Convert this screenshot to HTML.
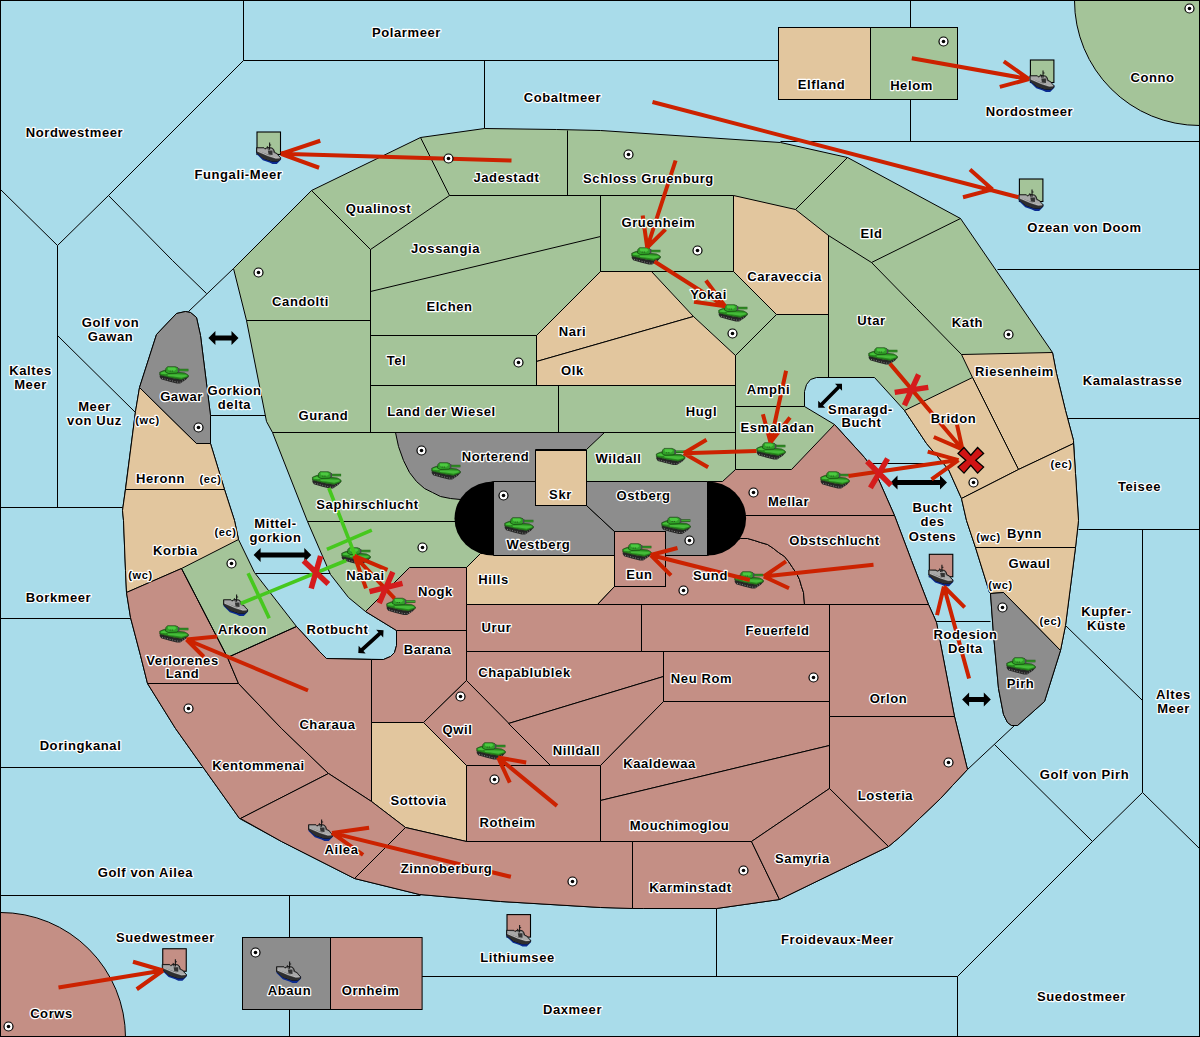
<!DOCTYPE html>
<html><head><meta charset="utf-8"><style>
html,body{margin:0;padding:0;background:#fff;}
svg{display:block;}
.l,.ls{font-family:"Liberation Sans",sans-serif;font-weight:bold;font-size:13px;letter-spacing:0.6px;text-anchor:middle;fill:#000;
stroke:#fff;stroke-width:2.4px;paint-order:stroke;stroke-linejoin:round;}
.ls{font-size:11px;}
</style></head><body>
<svg width="1200" height="1037" viewBox="0 0 1200 1037">
<defs><g id="tank">
<polygon points="0.3,8.5 9.3,10.8 15,11.9 22,13 27.8,10.8 28.8,10.5 26.3,13.2 20.7,16.9 17.3,16.9 9.3,14.9 1.7,12.7 0.2,10.5" fill="#262626"/>
<polyline points="2.5,11.8 9.5,13.6 17,15.5 21,15.7 25.5,13" fill="none" stroke="#8a8a8a" stroke-width="0.9" stroke-dasharray="1,1.6"/>
<polygon points="0.2,5.8 3,4.5 6,3.5 18,5.8 25,6.4 27.8,7.9 29,9 28.8,10.5 27.8,10.8 22,13 15,11.9 9.3,10.8 0.3,8.5" fill="#278a1e" stroke="#123a0c" stroke-width="0.6"/>
<polygon points="8,7.9 17,7.7 27,8.3 27.5,9.8 22,11.2 14,10.1 8.5,9.4" fill="#44bb38"/>
<polygon points="1,6.2 5,5 9,6.8 6,7.8 1.5,7.3" fill="#46c23a"/>
<polygon points="6.5,1.8 8,0.2 16,0.2 18.5,1.3 19.2,2 19.2,5.5 17,6.6 9,7 6,5.6" fill="#30a028" stroke="#123a0c" stroke-width="0.6"/>
<polygon points="8.5,1 15,1 17,2.5 15,4.2 10,4.2 8.5,3" fill="#4cc840"/>
<rect x="10.2" y="4.1" width="0.9" height="0.9" fill="#1a3a10"/><rect x="12.3" y="4.1" width="0.9" height="0.9" fill="#1a3a10"/>
<rect x="19.2" y="2.3" width="9.7" height="2.5" fill="#1f5e14"/>
<rect x="19.6" y="3.1" width="9" height="0.9" fill="#3fb334"/>
<rect x="18.3" y="1.5" width="1.4" height="4.4" fill="#4a4a50"/>
</g><g id="ship">
<polygon points="0,9.6 25.3,15.5 25.3,17.8 21,22.2 16.6,22.2 13.4,20.7 6.6,18.3 0,12" fill="#0a2a90"/>
<polygon points="0,5.4 7.7,5.4 8.8,6.5 11.2,5.1 16.1,5.7 17.7,7 18.8,10.3 21.5,11.6 22.3,12.9 25,15.7 25,17.3 22,19.5 16,19.5 7,16.5 0,10.5" fill="#5e5e5e" stroke="#111" stroke-width="0.9"/>
<polygon points="1,6.2 7.5,6.3 9,7.5 11.5,6 15.5,6.6 17,8 17.5,10.5 21,12.3 24,15.6 20,16 12,12.5 1,8.5" fill="#a8a8a8"/>
<polygon points="0.5,9.5 12,14.5 20,17 24.5,16.5 24.5,17.5 21.5,19.2 16,19.2 7,16.2 0.5,11" fill="#2e2e2e"/>
<polyline points="1,8.8 12,13.5 20,16 24,15.8" fill="none" stroke="#c8c8c8" stroke-width="0.9"/>
<polygon points="11.8,8.4 16.6,8.4 16.6,13 12.5,12.5" fill="#333"/>
<line x1="13.6" y1="0" x2="13.6" y2="7.6" stroke="#111" stroke-width="1.1"/>
<line x1="13.6" y1="2.6" x2="15.2" y2="2.6" stroke="#111" stroke-width="0.9"/>
<line x1="11.2" y1="3.8" x2="12.3" y2="7.5" stroke="#111" stroke-width="0.9"/>
</g></defs><g transform="translate(0.5,0.5)">
<rect x="0" y="0" width="1200" height="1037" fill="#a9dcea"/>
<circle cx="1199" cy="0" r="125" fill="#a4c499" stroke="#000" stroke-width="1"/>
<circle cx="0" cy="1037" r="125" fill="#c48f85" stroke="#000" stroke-width="1"/>
<polyline points="243,0 243,60" fill="none" stroke="#000" stroke-width="1"/>
<polyline points="243,60 778,60" fill="none" stroke="#000" stroke-width="1"/>
<polyline points="243,60 108,195" fill="none" stroke="#000" stroke-width="1"/>
<polyline points="108,195 57,245" fill="none" stroke="#000" stroke-width="1"/>
<polyline points="0,189 57,245" fill="none" stroke="#000" stroke-width="1"/>
<polyline points="57,245 57,507" fill="none" stroke="#000" stroke-width="1"/>
<polyline points="108,195 172,260 206,293" fill="none" stroke="#000" stroke-width="1"/>
<polyline points="188,311 233,268" fill="none" stroke="#000" stroke-width="1"/>
<polyline points="57,335 135,412" fill="none" stroke="#000" stroke-width="1"/>
<polyline points="0,507 122,507" fill="none" stroke="#000" stroke-width="1"/>
<polyline points="0,618 130,618" fill="none" stroke="#000" stroke-width="1"/>
<polyline points="0,767 202,767" fill="none" stroke="#000" stroke-width="1"/>
<polyline points="0,895 420,895" fill="none" stroke="#000" stroke-width="1"/>
<polyline points="289,895 289,1037" fill="none" stroke="#000" stroke-width="1"/>
<polyline points="421,976 957,976" fill="none" stroke="#000" stroke-width="1"/>
<polyline points="716,908 716,976" fill="none" stroke="#000" stroke-width="1"/>
<polyline points="957,976 1092,841" fill="none" stroke="#000" stroke-width="1"/>
<polyline points="957,976 957,1037" fill="none" stroke="#000" stroke-width="1"/>
<polyline points="1092,841 1142,792" fill="none" stroke="#000" stroke-width="1"/>
<polyline points="1142,792 1200,849" fill="none" stroke="#000" stroke-width="1"/>
<polyline points="1142,529 1142,792" fill="none" stroke="#000" stroke-width="1"/>
<polyline points="994,744 1092,841" fill="none" stroke="#000" stroke-width="1"/>
<polyline points="967,769 1014,725" fill="none" stroke="#000" stroke-width="1"/>
<polyline points="1065,625 1142,700" fill="none" stroke="#000" stroke-width="1"/>
<polyline points="1078,529 1200,529" fill="none" stroke="#000" stroke-width="1"/>
<polyline points="1067,418 1200,418" fill="none" stroke="#000" stroke-width="1"/>
<polyline points="997,269 1200,269" fill="none" stroke="#000" stroke-width="1"/>
<polyline points="780,141 1200,141" fill="none" stroke="#000" stroke-width="1"/>
<polyline points="910,0 910,141" fill="none" stroke="#000" stroke-width="1"/>
<polyline points="484,60 484,128" fill="none" stroke="#000" stroke-width="1"/>
<polyline points="210,415 266,415" fill="none" stroke="#000" stroke-width="1"/>
<polyline points="255,573 330,573" fill="none" stroke="#000" stroke-width="1"/>
<polyline points="935,621 990,621" fill="none" stroke="#000" stroke-width="1"/>
<polyline points="869,463 943,463" fill="none" stroke="#000" stroke-width="1"/>
<rect x="778" y="27" width="92" height="72" fill="#e2c69e" stroke="#000" stroke-width="1"/>
<rect x="870" y="27" width="87" height="72" fill="#a4c499" stroke="#000" stroke-width="1"/>
<rect x="242" y="937" width="88" height="72" fill="#8d8d8d" stroke="#000" stroke-width="1"/>
<rect x="330" y="937" width="91.60000000000002" height="72" fill="#c48f85" stroke="#000" stroke-width="1"/>
<polygon points="233,268 311,190 420,137 484,128 556,129 600,130 780,142 847,157 960,218 1052,352 1056,373 1065,410 1073,440 1075,473 1078,520 1075,547 1065,625 1060,650 1044,701 1017,725 1011,725 1007,722 1003,714 998,688 993,634 990,593 989,592 975,547 966,520 961,498 948,469 926,443 904,410 874,377 816,377 810,379 806,384 804,391 804,406 834,424 864,457 875,472 894,515 911,560 928,604 933,615 936,622 954,716 967,769 952,785 940,798 919,818 900,836 888,846 779,899 716,908 643,908 600,907 500,901 419,894 354,878 281,841 239,818 202,766 175,728 147,683 140,655 130,617 126,592 125,570 123,520 122,510 125,488 135,411 139,387 156,334 176,313 185,311 190,312 196,317 200,335 210,415 210,443 224,489 234,520 238,539 254,572 296,626 319,651 326,658 383,659 390,656 394,652 396,645 396,630 365,611 348,597 330,574 307,521 272,432 266,421 246,320" fill="#a4c499" stroke="#000" stroke-width="1"/>
<polygon points="536,335 600,271 651,271 693,316 536,361" fill="#e2c69e" stroke="#000" stroke-width="1"/>
<polygon points="536,361 693,316 735,355 735,385 536,385" fill="#e2c69e" stroke="#000" stroke-width="1"/>
<polygon points="733,195 795,209 828,235 828,314 776,314 733,271" fill="#e2c69e" stroke="#000" stroke-width="1"/>
<polygon points="961,354 1052,352 1056,373 1065,410 1073,440 1073,443 1018,469 972,377" fill="#e2c69e" stroke="#000" stroke-width="1"/>
<polygon points="904,410 972,377 1018,469 961,498 948,469 926,443" fill="#e2c69e" stroke="#000" stroke-width="1"/>
<polygon points="961,498 1018,469 1073,443 1075,473 1078,520 1075,547 975,547 966,520" fill="#e2c69e" stroke="#000" stroke-width="1"/>
<polygon points="975,547 1075,547 1065,625 1060,650 1003,592 990,593 989,592" fill="#e2c69e" stroke="#000" stroke-width="1"/>
<polygon points="139,387 196,443 210,443 224,489 125,489 135,411" fill="#e2c69e" stroke="#000" stroke-width="1"/>
<polygon points="125,489 224,489 234,520 238,539 181,568 126,592 125,570 123,520 122,510" fill="#e2c69e" stroke="#000" stroke-width="1"/>
<polygon points="466,567 480,553 614,555 614,586 597,604 466,604" fill="#e2c69e" stroke="#000" stroke-width="1"/>
<polygon points="371,722 423,722 466,764 466,841 405,827 371,801" fill="#e2c69e" stroke="#000" stroke-width="1"/>
<polygon points="139,387 156,334 176,313 185,311 190,312 196,317 200,335 210,415 210,443 196,443" fill="#8d8d8d" stroke="#000" stroke-width="1"/>
<polygon points="990,593 1003,592 1060,650 1044,701 1017,725 1011,725 1007,722 1003,714 998,688 993,634" fill="#8d8d8d" stroke="#000" stroke-width="1"/>
<polygon points="396,432 604,432 586,449 535,449 535,481 493,481 470,490 460,499 450,498 440,496 432,492 424,488 416,481 409,472 403,460 398,446 395,432" fill="#8d8d8d" stroke="#000" stroke-width="1"/>
<polygon points="493,481 535,481 535,505 586,505 614,531 614,555 493,555" fill="#8d8d8d" stroke="#000" stroke-width="1"/>
<polygon points="586,481 707,481 707,555 665,555 665,531 614,531 586,505" fill="#8d8d8d" stroke="#000" stroke-width="1"/>
<polygon points="126,592 181,568 227,657 238,683 147,683 140,655 130,617" fill="#c48f85" stroke="#000" stroke-width="1"/>
<polygon points="147,683 238,683 281,728 328,773 240,818 239,818 202,766 175,728" fill="#c48f85" stroke="#000" stroke-width="1"/>
<polygon points="227,657 296,626 319,651 326,658 371,659 371,801 328,773 281,728 238,683" fill="#c48f85" stroke="#000" stroke-width="1"/>
<polygon points="240,818 328,773 371,801 405,827 354,878 281,841" fill="#c48f85" stroke="#000" stroke-width="1"/>
<polygon points="405,827 466,841 632,841 632,908 600,907 500,901 419,894 354,878" fill="#c48f85" stroke="#000" stroke-width="1"/>
<polygon points="371,659 383,659 390,656 394,652 396,645 396,630 466,630 466,680 423,722 371,722" fill="#c48f85" stroke="#000" stroke-width="1"/>
<polygon points="365,611 409,567 466,567 466,630 396,630" fill="#c48f85" stroke="#000" stroke-width="1"/>
<polygon points="466,604 641,604 641,651 466,651" fill="#c48f85" stroke="#000" stroke-width="1"/>
<polygon points="466,651 663,651 663,676 508,723 466,680" fill="#c48f85" stroke="#000" stroke-width="1"/>
<polygon points="466,680 550,765 466,765 423,722" fill="#c48f85" stroke="#000" stroke-width="1"/>
<polygon points="508,723 663,676 663,701 600,765 550,765" fill="#c48f85" stroke="#000" stroke-width="1"/>
<polygon points="466,765 600,765 600,841 466,841" fill="#c48f85" stroke="#000" stroke-width="1"/>
<polygon points="600,765 663,701 829,701 829,745 600,800" fill="#c48f85" stroke="#000" stroke-width="1"/>
<polygon points="600,800 829,745 829,788 751,841 600,841" fill="#c48f85" stroke="#000" stroke-width="1"/>
<polygon points="632,841 751,841 779,899 716,908 643,908 632,908" fill="#c48f85" stroke="#000" stroke-width="1"/>
<polygon points="751,841 829,788 888,846 779,899" fill="#c48f85" stroke="#000" stroke-width="1"/>
<polygon points="829,716 954,716 967,769 952,785 940,798 919,818 900,836 888,846 829,788" fill="#c48f85" stroke="#000" stroke-width="1"/>
<polygon points="829,604 928,604 933,615 936,622 954,716 829,716" fill="#c48f85" stroke="#000" stroke-width="1"/>
<polygon points="663,651 829,651 829,701 663,701" fill="#c48f85" stroke="#000" stroke-width="1"/>
<polygon points="641,604 829,604 829,651 641,651" fill="#c48f85" stroke="#000" stroke-width="1"/>
<polygon points="597,604 614,586 665,586 665,555 707,555 740,538 747,538 754,540 760,542 767,544 773,548 778,552 784,556 788,561 792,567 796,573 799,579 801,586 803,592 804,604" fill="#c48f85" stroke="#000" stroke-width="1"/>
<polygon points="707,518 745,515 894,515 911,560 928,604 804,604 803,592 801,586 799,579 796,573 792,567 788,561 784,556 778,552 773,548 767,544 760,542 754,540 747,538 740,538" fill="#c48f85" stroke="#000" stroke-width="1"/>
<polygon points="707,481 722,481 735,469 791,469 834,424 864,457 875,472 894,515 745,515 707,518" fill="#c48f85" stroke="#000" stroke-width="1"/>
<rect x="535" y="450" width="51" height="55" fill="#e2c69e" stroke="#000" stroke-width="1"/>
<rect x="614" y="531" width="51" height="55" fill="#c48f85" stroke="#000" stroke-width="1"/>
<polyline points="311,190 370,249" fill="none" stroke="#000" stroke-width="1"/>
<polyline points="420,137 449,195" fill="none" stroke="#000" stroke-width="1"/>
<polyline points="449,195 370,249" fill="none" stroke="#000" stroke-width="1"/>
<polyline points="449,195 733,195" fill="none" stroke="#000" stroke-width="1"/>
<polyline points="567,130 567,195" fill="none" stroke="#000" stroke-width="1"/>
<polyline points="246,320 370,320" fill="none" stroke="#000" stroke-width="1"/>
<polyline points="370,249 370,432" fill="none" stroke="#000" stroke-width="1"/>
<polyline points="370,291 600,236" fill="none" stroke="#000" stroke-width="1"/>
<polyline points="600,195 600,271" fill="none" stroke="#000" stroke-width="1"/>
<polyline points="600,271 733,271" fill="none" stroke="#000" stroke-width="1"/>
<polyline points="370,335 536,335" fill="none" stroke="#000" stroke-width="1"/>
<polyline points="536,335 536,385" fill="none" stroke="#000" stroke-width="1"/>
<polyline points="370,385 735,385" fill="none" stroke="#000" stroke-width="1"/>
<polyline points="558,385 558,432" fill="none" stroke="#000" stroke-width="1"/>
<polyline points="272,432 735,432" fill="none" stroke="#000" stroke-width="1"/>
<polyline points="735,355 735,469" fill="none" stroke="#000" stroke-width="1"/>
<polyline points="735,406 804,406" fill="none" stroke="#000" stroke-width="1"/>
<polyline points="795,209 847,157" fill="none" stroke="#000" stroke-width="1"/>
<polyline points="828,235 871,262" fill="none" stroke="#000" stroke-width="1"/>
<polyline points="871,262 960,218" fill="none" stroke="#000" stroke-width="1"/>
<polyline points="871,262 916,308 961,354" fill="none" stroke="#000" stroke-width="1"/>
<polyline points="828,235 828,377" fill="none" stroke="#000" stroke-width="1"/>
<polyline points="776,314 735,355" fill="none" stroke="#000" stroke-width="1"/>
<polyline points="307,521 458,521" fill="none" stroke="#000" stroke-width="1"/>
<polyline points="181,568 227,657" fill="none" stroke="#000" stroke-width="1"/>
<polyline points="227,657 296,626" fill="none" stroke="#000" stroke-width="1"/>
<path d="M493,481 A39,37 0 0 0 493,555 Z" fill="#000"/>
<path d="M707,481 A38.6,37 0 0 1 707,555 Z" fill="#000"/>
<use href="#tank" x="159" y="366"/>
<use href="#tank" x="631" y="247"/>
<use href="#tank" x="718" y="304"/>
<use href="#tank" x="868" y="347"/>
<use href="#tank" x="756" y="442"/>
<use href="#tank" x="655.6" y="447.7"/>
<use href="#tank" x="820" y="471"/>
<use href="#tank" x="431" y="462"/>
<use href="#tank" x="311.7" y="471"/>
<use href="#tank" x="504" y="517"/>
<use href="#tank" x="661" y="516.5"/>
<use href="#tank" x="341" y="547"/>
<use href="#tank" x="622" y="543"/>
<use href="#tank" x="734" y="571"/>
<use href="#tank" x="386" y="597.5"/>
<use href="#tank" x="159" y="625"/>
<use href="#tank" x="1006" y="657"/>
<use href="#tank" x="476" y="742"/>
<rect x="256.5" y="131.5" width="23.5" height="22.5" fill="#a4c499" stroke="#000" stroke-width="1.1"/>
<use href="#ship" transform="translate(256,142) scale(0.965)"/>
<rect x="1029.9" y="59.5" width="23.5" height="22.5" fill="#a4c499" stroke="#000" stroke-width="1.1"/>
<use href="#ship" transform="translate(1029.4,70) scale(0.965)"/>
<rect x="1018.9" y="178.5" width="23.5" height="22.5" fill="#a4c499" stroke="#000" stroke-width="1.1"/>
<use href="#ship" transform="translate(1018.4,189) scale(0.965)"/>
<rect x="928.8" y="553.8" width="23.5" height="22.5" fill="#c48f85" stroke="#000" stroke-width="1.1"/>
<use href="#ship" transform="translate(928.3,564.3) scale(0.965)"/>
<rect x="162.25" y="948.25" width="23.5" height="22.5" fill="#c48f85" stroke="#000" stroke-width="1.1"/>
<use href="#ship" transform="translate(161.75,958.75) scale(0.965)"/>
<rect x="506.5" y="914.1" width="23.5" height="22.5" fill="#c48f85" stroke="#000" stroke-width="1.1"/>
<use href="#ship" transform="translate(506,924.6) scale(0.965)"/>
<use href="#ship" transform="translate(308,819) scale(0.965)"/>
<use href="#ship" transform="translate(223,594) scale(0.965)"/>
<use href="#ship" transform="translate(276,961) scale(0.965)"/>
<polygon points="0.0,0.0 7.0,-7.0 7.0,-2.5 23.1,-2.5 23.1,-7.0 30.1,0.0 23.1,7.0 23.1,2.5 7.0,2.5 7.0,7.0" fill="#000" transform="translate(207.9,337.4) rotate(0.00)"/>
<polygon points="0.0,0.0 7.0,-7.0 7.0,-2.5 50.7,-2.5 50.7,-7.0 57.7,0.0 50.7,7.0 50.7,2.5 7.0,2.5 7.0,7.0" fill="#000" transform="translate(253.1,554.4) rotate(0.00)"/>
<polygon points="0.0,0.0 5.2,-5.2 5.2,-1.9 28.9,-1.9 28.9,-5.2 34.1,0.0 28.9,5.2 28.9,1.9 5.2,1.9 5.2,5.2" fill="#000" transform="translate(357.8,652.6) rotate(-42.26)"/>
<polygon points="0.0,0.0 5.0,-5.0 5.0,-1.8 28.8,-1.8 28.8,-5.0 33.7,0.0 28.8,5.0 28.8,1.8 5.0,1.8 5.0,5.0" fill="#000" transform="translate(817.7,407.2) rotate(-45.12)"/>
<polygon points="0.0,0.0 7.0,-7.0 7.0,-2.5 49.5,-2.5 49.5,-7.0 56.5,0.0 49.5,7.0 49.5,2.5 7.0,2.5 7.0,7.0" fill="#000" transform="translate(890,482) rotate(0.00)"/>
<polygon points="0.0,0.0 7.0,-7.0 7.0,-2.5 21.7,-2.5 21.7,-7.0 28.7,0.0 21.7,7.0 21.7,2.5 7.0,2.5 7.0,7.0" fill="#000" transform="translate(961.6,698.9) rotate(0.00)"/>
<path d="M328.3,487.5 L354.8,555.3 M326.4,548.9 L371.3,529.7 M240.25,603 L345.7,560 M247.6,572.75 L268.7,617.7" stroke="#46c81e" stroke-width="3.6" fill="none"/>
<path d="M511,160 L280.4,153.3 M319.75,140.25 L280.4,153.3 M318.6,167.25 L280.4,153.3" fill="none" stroke="#cc2200" stroke-width="4" stroke-linejoin="miter" stroke-linecap="butt"/>
<path d="M911.3,57.8 L1028.5,78.6 M1003.3,60.9 L1028.5,78.6 M999.3,86.4 L1028.5,78.6" fill="none" stroke="#cc2200" stroke-width="4" stroke-linejoin="miter" stroke-linecap="butt"/>
<path d="M652,101.5 L1018,196.7 M969.5,168.9 L992,188.9 M962.5,196.7 L992,188.9" fill="none" stroke="#cc2200" stroke-width="4" stroke-linejoin="miter" stroke-linecap="butt"/>
<path d="M675.1,160 L646.7,247 M642.2,215 L646.7,247 M665,228.8 L646.7,247" fill="none" stroke="#cc2200" stroke-width="4" stroke-linejoin="miter" stroke-linecap="butt"/>
<path d="M654,261 L724.6,305.8 M705.4,280 L724.6,305.8 M693.5,301.2 L724.6,305.8" fill="none" stroke="#cc2200" stroke-width="4" stroke-linejoin="miter" stroke-linecap="butt"/>
<path d="M785.6,370.3 L770,441.8 M762.4,413.7 L770,441.8 M789.5,417 L770,441.8" fill="none" stroke="#cc2200" stroke-width="4" stroke-linejoin="miter" stroke-linecap="butt"/>
<path d="M756,450.5 L683.3,452.7 M706,439.2 L683.3,452.7 M707.6,466.8 L683.3,452.7" fill="none" stroke="#cc2200" stroke-width="4" stroke-linejoin="miter" stroke-linecap="butt"/>
<path d="M889.4,363.1 L961.9,448.8 M933.3,436.5 L961.9,448.8 M956.5,424.1 L961.9,448.8" fill="none" stroke="#cc2200" stroke-width="4" stroke-linejoin="miter" stroke-linecap="butt"/>
<path d="M848,475.4 L958,459.6 M927.2,451.1 L958,459.6 M931,478.9 L958,459.6" fill="none" stroke="#cc2200" stroke-width="4" stroke-linejoin="miter" stroke-linecap="butt"/>
<path d="M394,597.9 L353.9,555.4 M387,569.3 L353.9,555.4 M365.5,587.8 L353.9,555.4" fill="none" stroke="#cc2200" stroke-width="4" stroke-linejoin="miter" stroke-linecap="butt"/>
<path d="M873,564.3 L763.3,576 M785.5,560.8 L763.3,576 M788.5,587.7 L763.3,576" fill="none" stroke="#cc2200" stroke-width="4" stroke-linejoin="miter" stroke-linecap="butt"/>
<path d="M749.3,579.5 L650.2,554.5 M677,547.5 L650.2,554.5 M670.5,574.8 L650.2,554.5" fill="none" stroke="#cc2200" stroke-width="4" stroke-linejoin="miter" stroke-linecap="butt"/>
<path d="M968.6,678 L943.4,586 M936.5,614.6 L943.4,586 M964.2,606.8 L943.4,586" fill="none" stroke="#cc2200" stroke-width="4" stroke-linejoin="miter" stroke-linecap="butt"/>
<path d="M307.5,690 L186,639 M216.75,636 L186,639 M203.25,656.25 L186,639" fill="none" stroke="#cc2200" stroke-width="4" stroke-linejoin="miter" stroke-linecap="butt"/>
<path d="M556.5,805.4 L497.6,757 M525.7,762 L497.6,757 M509.3,782.2 L497.6,757" fill="none" stroke="#cc2200" stroke-width="4" stroke-linejoin="miter" stroke-linecap="butt"/>
<path d="M510.4,876.3 L331.5,832.4 M368.6,827.2 L331.5,832.4 M362.6,854.4 L331.5,832.4" fill="none" stroke="#cc2200" stroke-width="4" stroke-linejoin="miter" stroke-linecap="butt"/>
<path d="M58,987 L162.5,970 M132.5,961.25 L162.5,970 M136.25,988.75 L162.5,970" fill="none" stroke="#cc2200" stroke-width="4" stroke-linejoin="miter" stroke-linecap="butt"/>
<path d="M918.1,374.0 L903.9,404.8 M894.2,391.9 L927.8,386.9 " stroke="#d41c1c" stroke-width="5.5" fill="none"/>
<path d="M869.9,487.3 L887.1,458.1 M866.5,460.7 L890.5,484.7 " stroke="#d41c1c" stroke-width="5.5" fill="none"/>
<path d="M303.0,560.2 L327.8,583.4 M320.1,555.5 L310.7,588.1 " stroke="#d41c1c" stroke-width="5.5" fill="none"/>
<path d="M392.3,571.4 L378.7,602.6 M369.0,591.2 L402.0,582.8 " stroke="#d41c1c" stroke-width="5.5" fill="none"/>
<polygon points="970.3,454.8 977.1,447.0 983.1,453.0 975.3,459.8 983.1,466.6 977.1,472.6 970.3,464.8 963.5,472.6 957.5,466.6 965.3,459.8 957.5,453.0 963.5,447.0" fill="#d01414" stroke="#000" stroke-width="1.3"/>
<circle cx="448" cy="158" r="4.5" fill="#fff" stroke="#000" stroke-width="1.2"/><circle cx="448" cy="158" r="1.8" fill="#000"/>
<circle cx="628" cy="154" r="4.5" fill="#fff" stroke="#000" stroke-width="1.2"/><circle cx="628" cy="154" r="1.8" fill="#000"/>
<circle cx="697" cy="250" r="4.5" fill="#fff" stroke="#000" stroke-width="1.2"/><circle cx="697" cy="250" r="1.8" fill="#000"/>
<circle cx="943" cy="41" r="4.5" fill="#fff" stroke="#000" stroke-width="1.2"/><circle cx="943" cy="41" r="1.8" fill="#000"/>
<circle cx="1189" cy="8" r="4.5" fill="#fff" stroke="#000" stroke-width="1.2"/><circle cx="1189" cy="8" r="1.8" fill="#000"/>
<circle cx="258" cy="272" r="4.5" fill="#fff" stroke="#000" stroke-width="1.2"/><circle cx="258" cy="272" r="1.8" fill="#000"/>
<circle cx="518" cy="362" r="4.5" fill="#fff" stroke="#000" stroke-width="1.2"/><circle cx="518" cy="362" r="1.8" fill="#000"/>
<circle cx="732" cy="333" r="4.5" fill="#fff" stroke="#000" stroke-width="1.2"/><circle cx="732" cy="333" r="1.8" fill="#000"/>
<circle cx="1008" cy="334" r="4.5" fill="#fff" stroke="#000" stroke-width="1.2"/><circle cx="1008" cy="334" r="1.8" fill="#000"/>
<circle cx="198" cy="427" r="4.5" fill="#fff" stroke="#000" stroke-width="1.2"/><circle cx="198" cy="427" r="1.8" fill="#000"/>
<circle cx="421" cy="450" r="4.5" fill="#fff" stroke="#000" stroke-width="1.2"/><circle cx="421" cy="450" r="1.8" fill="#000"/>
<circle cx="503" cy="495" r="4.5" fill="#fff" stroke="#000" stroke-width="1.2"/><circle cx="503" cy="495" r="1.8" fill="#000"/>
<circle cx="753" cy="492" r="4.5" fill="#fff" stroke="#000" stroke-width="1.2"/><circle cx="753" cy="492" r="1.8" fill="#000"/>
<circle cx="973" cy="482" r="4.5" fill="#fff" stroke="#000" stroke-width="1.2"/><circle cx="973" cy="482" r="1.8" fill="#000"/>
<circle cx="689" cy="540" r="4.5" fill="#fff" stroke="#000" stroke-width="1.2"/><circle cx="689" cy="540" r="1.8" fill="#000"/>
<circle cx="231" cy="563" r="4.5" fill="#fff" stroke="#000" stroke-width="1.2"/><circle cx="231" cy="563" r="1.8" fill="#000"/>
<circle cx="422" cy="547" r="4.5" fill="#fff" stroke="#000" stroke-width="1.2"/><circle cx="422" cy="547" r="1.8" fill="#000"/>
<circle cx="683" cy="590" r="4.5" fill="#fff" stroke="#000" stroke-width="1.2"/><circle cx="683" cy="590" r="1.8" fill="#000"/>
<circle cx="1002" cy="607" r="4.5" fill="#fff" stroke="#000" stroke-width="1.2"/><circle cx="1002" cy="607" r="1.8" fill="#000"/>
<circle cx="813" cy="677" r="4.5" fill="#fff" stroke="#000" stroke-width="1.2"/><circle cx="813" cy="677" r="1.8" fill="#000"/>
<circle cx="460" cy="696" r="4.5" fill="#fff" stroke="#000" stroke-width="1.2"/><circle cx="460" cy="696" r="1.8" fill="#000"/>
<circle cx="188" cy="708" r="4.5" fill="#fff" stroke="#000" stroke-width="1.2"/><circle cx="188" cy="708" r="1.8" fill="#000"/>
<circle cx="948" cy="762" r="4.5" fill="#fff" stroke="#000" stroke-width="1.2"/><circle cx="948" cy="762" r="1.8" fill="#000"/>
<circle cx="494" cy="779" r="4.5" fill="#fff" stroke="#000" stroke-width="1.2"/><circle cx="494" cy="779" r="1.8" fill="#000"/>
<circle cx="743" cy="870" r="4.5" fill="#fff" stroke="#000" stroke-width="1.2"/><circle cx="743" cy="870" r="1.8" fill="#000"/>
<circle cx="572" cy="881" r="4.5" fill="#fff" stroke="#000" stroke-width="1.2"/><circle cx="572" cy="881" r="1.8" fill="#000"/>
<circle cx="255" cy="952" r="4.5" fill="#fff" stroke="#000" stroke-width="1.2"/><circle cx="255" cy="952" r="1.8" fill="#000"/>
<circle cx="8" cy="1026" r="4.5" fill="#fff" stroke="#000" stroke-width="1.2"/><circle cx="8" cy="1026" r="1.8" fill="#000"/>
<text class="l" x="406" y="36.5">Polarmeer</text>
<text class="l" x="562" y="101.5">Cobaltmeer</text>
<text class="l" x="74" y="136.5">Nordwestmeer</text>
<text class="l" x="238" y="178.5">Fungali-Meer</text>
<text class="l" x="1029" y="115.5">Nordostmeer</text>
<text class="l" x="1152" y="81.5">Conno</text>
<text class="l" x="1084" y="231.5">Ozean von Doom</text>
<text class="l" x="110" y="326.5">Golf von</text>
<text class="l" x="110" y="340.5">Gawan</text>
<text class="l" x="30" y="374.5">Kaltes</text>
<text class="l" x="30" y="388.5">Meer</text>
<text class="l" x="94" y="410.5">Meer</text>
<text class="l" x="94" y="424.5">von Uuz</text>
<text class="l" x="234" y="394.5">Gorkion</text>
<text class="l" x="234" y="408.5">delta</text>
<text class="l" x="1132" y="384.5">Kamalastrasse</text>
<text class="l" x="860" y="413.5">Smaragd-</text>
<text class="l" x="861" y="426.5">Bucht</text>
<text class="l" x="1139" y="490.5">Teisee</text>
<text class="l" x="932" y="511.5">Bucht</text>
<text class="l" x="932" y="525.5">des</text>
<text class="l" x="932" y="540.5">Ostens</text>
<text class="l" x="275" y="527.5">Mittel-</text>
<text class="l" x="275" y="541.5">gorkion</text>
<text class="l" x="58" y="601.5">Borkmeer</text>
<text class="l" x="1106" y="615.5">Kupfer-</text>
<text class="l" x="1106" y="629.5">Küste</text>
<text class="l" x="337" y="633.5">Rotbucht</text>
<text class="l" x="965" y="638.5">Rodesion</text>
<text class="l" x="965" y="652.5">Delta</text>
<text class="l" x="1173" y="698.5">Altes</text>
<text class="l" x="1173" y="712.5">Meer</text>
<text class="l" x="80" y="749.5">Doringkanal</text>
<text class="l" x="1084" y="778.5">Golf von Pirh</text>
<text class="l" x="145" y="876.5">Golf von Ailea</text>
<text class="l" x="837" y="943.5">Froidevaux-Meer</text>
<text class="l" x="165" y="941.5">Suedwestmeer</text>
<text class="l" x="517" y="961.5">Lithiumsee</text>
<text class="l" x="1081" y="1000.5">Suedostmeer</text>
<text class="l" x="572" y="1013.5">Daxmeer</text>
<text class="l" x="51" y="1017.5">Corws</text>
<text class="l" x="821" y="88.5">Elfland</text>
<text class="l" x="911" y="89.5">Helom</text>
<text class="l" x="506" y="181.5">Jadestadt</text>
<text class="l" x="378" y="212.5">Qualinost</text>
<text class="l" x="648" y="182.5">Schloss Gruenburg</text>
<text class="l" x="658" y="226.5">Gruenheim</text>
<text class="l" x="871" y="237.5">Eld</text>
<text class="l" x="445" y="252.5">Jossangia</text>
<text class="l" x="300" y="305.5">Candolti</text>
<text class="l" x="449" y="310.5">Elchen</text>
<text class="l" x="784" y="280.5">Caraveccia</text>
<text class="l" x="708" y="298.5">Yokai</text>
<text class="l" x="871" y="324.5">Utar</text>
<text class="l" x="967" y="326.5">Kath</text>
<text class="l" x="572" y="335.5">Nari</text>
<text class="l" x="396" y="364.5">Tel</text>
<text class="l" x="572" y="374.5">Olk</text>
<text class="l" x="1014" y="375.5">Riesenheim</text>
<text class="l" x="768" y="393.5">Amphi</text>
<text class="l" x="181" y="400.5">Gawar</text>
<text class="l" x="441" y="415.5">Land der Wiesel</text>
<text class="l" x="323" y="419.5">Gurand</text>
<text class="l" x="701" y="415.5">Hugl</text>
<text class="l" x="953" y="422.5">Bridon</text>
<text class="l" x="777" y="431.5">Esmaladan</text>
<text class="l" x="495" y="460.5">Norterend</text>
<text class="l" x="618" y="462.5">Wildall</text>
<text class="l" x="160" y="482.5">Heronn</text>
<text class="ls" x="210" y="482.6">(ec)</text>
<text class="ls" x="147" y="423.6">(wc)</text>
<text class="ls" x="1061" y="467.6">(ec)</text>
<text class="l" x="560" y="498.5">Skr</text>
<text class="l" x="643" y="499.5">Ostberg</text>
<text class="l" x="788" y="505.5">Mellar</text>
<text class="l" x="367" y="508.5">Saphirschlucht</text>
<text class="l" x="538" y="548.5">Westberg</text>
<text class="l" x="834" y="544.5">Obstschlucht</text>
<text class="l" x="175" y="554.5">Korbia</text>
<text class="ls" x="140" y="578.6">(wc)</text>
<text class="ls" x="225" y="535.6">(ec)</text>
<text class="l" x="1024" y="537.5">Bynn</text>
<text class="ls" x="988" y="540.6">(wc)</text>
<text class="l" x="1029" y="567.5">Gwaul</text>
<text class="ls" x="1000" y="588.6">(wc)</text>
<text class="ls" x="1050" y="624.6">(ec)</text>
<text class="l" x="365" y="579.5">Nabai</text>
<text class="l" x="639" y="578.5">Eun</text>
<text class="l" x="710" y="579.5">Sund</text>
<text class="l" x="493" y="583.5">Hills</text>
<text class="l" x="435" y="595.5">Nogk</text>
<text class="l" x="242" y="633.5">Arkoon</text>
<text class="l" x="496" y="631.5">Urur</text>
<text class="l" x="777" y="634.5">Feuerfeld</text>
<text class="l" x="427" y="653.5">Barana</text>
<text class="l" x="182" y="664.5">Verlorenes</text>
<text class="l" x="182" y="677.5">Land</text>
<text class="l" x="524" y="676.5">Chapablublek</text>
<text class="l" x="701" y="682.5">Neu Rom</text>
<text class="l" x="1020" y="687.5">Pirh</text>
<text class="l" x="888" y="702.5">Orlon</text>
<text class="l" x="327" y="728.5">Charaua</text>
<text class="l" x="457" y="733.5">Qwil</text>
<text class="l" x="576" y="754.5">Nilldall</text>
<text class="l" x="659" y="767.5">Kaaldewaa</text>
<text class="l" x="258" y="769.5">Kentommenai</text>
<text class="l" x="885" y="799.5">Losteria</text>
<text class="l" x="418" y="804.5">Sottovia</text>
<text class="l" x="507" y="826.5">Rotheim</text>
<text class="l" x="679" y="829.5">Mouchimoglou</text>
<text class="l" x="341" y="853.5">Ailea</text>
<text class="l" x="802" y="862.5">Samyria</text>
<text class="l" x="446" y="872.5">Zinnoberburg</text>
<text class="l" x="690" y="891.5">Karminstadt</text>
<text class="l" x="289" y="994.5">Abaun</text>
<text class="l" x="370" y="994.5">Ornheim</text>
<rect x="0" y="0" width="1199" height="1036" fill="none" stroke="#000" stroke-width="1"/>
</g>
</svg>
</body></html>
